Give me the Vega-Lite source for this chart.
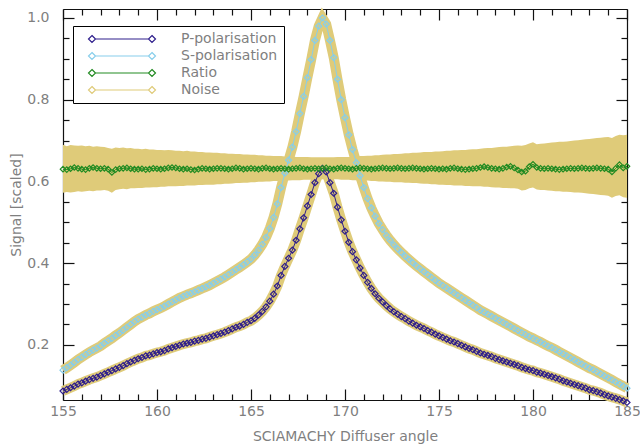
{
"$schema": "https://vega.github.io/schema/vega-lite/v6.json",
"width": 564, "height": 391,
"autosize": {"type": "none"},
"padding": {"left": 63, "top": 9, "right": 13, "bottom": 45},
"background": "white",
"config": {
  "view": {"stroke": null},
  "axis": {"grid": false, "domainColor": "#111111", "domainWidth": 1.2, "tickColor": "#111111", "tickWidth": 1.2, "zindex": 1,
    "labelFont": "DejaVu Sans", "labelFontSize": 14, "labelColor": "#7f7f7f",
    "titleFont": "DejaVu Sans", "titleFontSize": 14, "titleFontWeight": "normal", "titleColor": "#7f7f7f",
    "labelFlush": false, "labelOverlap": false}
},
"data": {"values": [
{"a":155.0,"s":0.138,"p":0.087,"r":0.630,"lo":0.572,"hi":0.690},
{"a":155.2,"s":0.144,"p":0.091,"r":0.629,"lo":0.574,"hi":0.686},
{"a":155.4,"s":0.150,"p":0.095,"r":0.631,"lo":0.573,"hi":0.689},
{"a":155.6,"s":0.157,"p":0.099,"r":0.634,"lo":0.574,"hi":0.688},
{"a":155.8,"s":0.164,"p":0.104,"r":0.632,"lo":0.576,"hi":0.687},
{"a":156.0,"s":0.170,"p":0.107,"r":0.630,"lo":0.575,"hi":0.688},
{"a":156.2,"s":0.176,"p":0.111,"r":0.629,"lo":0.576,"hi":0.686},
{"a":156.4,"s":0.182,"p":0.115,"r":0.632,"lo":0.577,"hi":0.687},
{"a":156.6,"s":0.187,"p":0.118,"r":0.634,"lo":0.576,"hi":0.685},
{"a":156.8,"s":0.192,"p":0.121,"r":0.632,"lo":0.578,"hi":0.686},
{"a":157.0,"s":0.197,"p":0.125,"r":0.631,"lo":0.578,"hi":0.685},
{"a":157.2,"s":0.204,"p":0.129,"r":0.632,"lo":0.579,"hi":0.684},
{"a":157.4,"s":0.210,"p":0.133,"r":0.630,"lo":0.577,"hi":0.682},
{"a":157.6,"s":0.216,"p":0.137,"r":0.622,"lo":0.572,"hi":0.680},
{"a":157.8,"s":0.223,"p":0.141,"r":0.629,"lo":0.579,"hi":0.683},
{"a":158.0,"s":0.229,"p":0.145,"r":0.631,"lo":0.581,"hi":0.682},
{"a":158.2,"s":0.236,"p":0.149,"r":0.632,"lo":0.582,"hi":0.683},
{"a":158.4,"s":0.243,"p":0.154,"r":0.633,"lo":0.581,"hi":0.681},
{"a":158.6,"s":0.250,"p":0.158,"r":0.631,"lo":0.583,"hi":0.682},
{"a":158.8,"s":0.257,"p":0.162,"r":0.630,"lo":0.583,"hi":0.680},
{"a":159.0,"s":0.263,"p":0.166,"r":0.630,"lo":0.584,"hi":0.680},
{"a":159.2,"s":0.268,"p":0.169,"r":0.631,"lo":0.584,"hi":0.679},
{"a":159.4,"s":0.273,"p":0.173,"r":0.629,"lo":0.585,"hi":0.680},
{"a":159.6,"s":0.277,"p":0.175,"r":0.630,"lo":0.585,"hi":0.678},
{"a":159.8,"s":0.282,"p":0.178,"r":0.632,"lo":0.586,"hi":0.678},
{"a":160.0,"s":0.286,"p":0.181,"r":0.631,"lo":0.586,"hi":0.677},
{"a":160.2,"s":0.290,"p":0.183,"r":0.630,"lo":0.587,"hi":0.677},
{"a":160.4,"s":0.295,"p":0.186,"r":0.631,"lo":0.587,"hi":0.676},
{"a":160.6,"s":0.300,"p":0.190,"r":0.633,"lo":0.588,"hi":0.677},
{"a":160.8,"s":0.305,"p":0.193,"r":0.634,"lo":0.588,"hi":0.676},
{"a":161.0,"s":0.310,"p":0.196,"r":0.633,"lo":0.588,"hi":0.675},
{"a":161.2,"s":0.315,"p":0.199,"r":0.631,"lo":0.589,"hi":0.675},
{"a":161.4,"s":0.319,"p":0.202,"r":0.630,"lo":0.589,"hi":0.674},
{"a":161.6,"s":0.323,"p":0.204,"r":0.631,"lo":0.590,"hi":0.675},
{"a":161.8,"s":0.326,"p":0.206,"r":0.629,"lo":0.590,"hi":0.673},
{"a":162.0,"s":0.330,"p":0.209,"r":0.628,"lo":0.590,"hi":0.673},
{"a":162.2,"s":0.334,"p":0.211,"r":0.630,"lo":0.591,"hi":0.672},
{"a":162.4,"s":0.338,"p":0.214,"r":0.632,"lo":0.591,"hi":0.672},
{"a":162.6,"s":0.342,"p":0.216,"r":0.631,"lo":0.592,"hi":0.671},
{"a":162.8,"s":0.346,"p":0.219,"r":0.630,"lo":0.592,"hi":0.671},
{"a":163.0,"s":0.351,"p":0.222,"r":0.631,"lo":0.592,"hi":0.670},
{"a":163.2,"s":0.356,"p":0.225,"r":0.632,"lo":0.593,"hi":0.670},
{"a":163.4,"s":0.361,"p":0.228,"r":0.632,"lo":0.593,"hi":0.669},
{"a":163.6,"s":0.366,"p":0.231,"r":0.631,"lo":0.594,"hi":0.669},
{"a":163.8,"s":0.372,"p":0.235,"r":0.630,"lo":0.594,"hi":0.668},
{"a":164.0,"s":0.378,"p":0.239,"r":0.631,"lo":0.595,"hi":0.668},
{"a":164.2,"s":0.384,"p":0.243,"r":0.633,"lo":0.596,"hi":0.667},
{"a":164.4,"s":0.390,"p":0.246,"r":0.632,"lo":0.596,"hi":0.667},
{"a":164.6,"s":0.396,"p":0.250,"r":0.630,"lo":0.597,"hi":0.666},
{"a":164.8,"s":0.403,"p":0.255,"r":0.631,"lo":0.597,"hi":0.666},
{"a":165.0,"s":0.410,"p":0.259,"r":0.632,"lo":0.598,"hi":0.665},
{"a":165.2,"s":0.420,"p":0.265,"r":0.631,"lo":0.598,"hi":0.665},
{"a":165.4,"s":0.432,"p":0.273,"r":0.630,"lo":0.599,"hi":0.664},
{"a":165.6,"s":0.446,"p":0.282,"r":0.632,"lo":0.599,"hi":0.664},
{"a":165.8,"s":0.463,"p":0.293,"r":0.633,"lo":0.600,"hi":0.663},
{"a":166.0,"s":0.485,"p":0.307,"r":0.631,"lo":0.600,"hi":0.663},
{"a":166.2,"s":0.512,"p":0.324,"r":0.630,"lo":0.601,"hi":0.662},
{"a":166.4,"s":0.545,"p":0.344,"r":0.631,"lo":0.601,"hi":0.662},
{"a":166.6,"s":0.585,"p":0.370,"r":0.632,"lo":0.602,"hi":0.662},
{"a":166.8,"s":0.620,"p":0.392,"r":0.631,"lo":0.602,"hi":0.661},
{"a":167.0,"s":0.652,"p":0.412,"r":0.630,"lo":0.602,"hi":0.661},
{"a":167.2,"s":0.684,"p":0.432,"r":0.631,"lo":0.603,"hi":0.661},
{"a":167.4,"s":0.722,"p":0.456,"r":0.632,"lo":0.603,"hi":0.660},
{"a":167.6,"s":0.766,"p":0.484,"r":0.633,"lo":0.603,"hi":0.660},
{"a":167.8,"s":0.808,"p":0.511,"r":0.631,"lo":0.604,"hi":0.660},
{"a":168.0,"s":0.854,"p":0.540,"r":0.630,"lo":0.604,"hi":0.660},
{"a":168.2,"s":0.898,"p":0.568,"r":0.631,"lo":0.604,"hi":0.659},
{"a":168.4,"s":0.945,"p":0.597,"r":0.632,"lo":0.605,"hi":0.659},
{"a":168.6,"s":0.980,"p":0.619,"r":0.631,"lo":0.605,"hi":0.659},
{"a":168.8,"s":1.000,"p":0.632,"r":0.632,"lo":0.605,"hi":0.659},
{"a":169.0,"s":0.985,"p":0.623,"r":0.633,"lo":0.605,"hi":0.659},
{"a":169.2,"s":0.945,"p":0.597,"r":0.631,"lo":0.605,"hi":0.659},
{"a":169.4,"s":0.903,"p":0.571,"r":0.630,"lo":0.605,"hi":0.659},
{"a":169.6,"s":0.850,"p":0.537,"r":0.632,"lo":0.605,"hi":0.660},
{"a":169.8,"s":0.800,"p":0.506,"r":0.633,"lo":0.604,"hi":0.660},
{"a":170.0,"s":0.756,"p":0.478,"r":0.632,"lo":0.604,"hi":0.660},
{"a":170.2,"s":0.714,"p":0.451,"r":0.631,"lo":0.604,"hi":0.660},
{"a":170.4,"s":0.678,"p":0.428,"r":0.630,"lo":0.603,"hi":0.661},
{"a":170.6,"s":0.646,"p":0.408,"r":0.632,"lo":0.603,"hi":0.661},
{"a":170.8,"s":0.614,"p":0.388,"r":0.633,"lo":0.602,"hi":0.662},
{"a":171.0,"s":0.585,"p":0.370,"r":0.632,"lo":0.602,"hi":0.662},
{"a":171.2,"s":0.558,"p":0.353,"r":0.631,"lo":0.602,"hi":0.663},
{"a":171.4,"s":0.535,"p":0.338,"r":0.630,"lo":0.601,"hi":0.663},
{"a":171.6,"s":0.515,"p":0.325,"r":0.631,"lo":0.601,"hi":0.664},
{"a":171.8,"s":0.497,"p":0.314,"r":0.632,"lo":0.600,"hi":0.664},
{"a":172.0,"s":0.482,"p":0.305,"r":0.633,"lo":0.600,"hi":0.665},
{"a":172.2,"s":0.468,"p":0.296,"r":0.632,"lo":0.599,"hi":0.666},
{"a":172.4,"s":0.456,"p":0.288,"r":0.631,"lo":0.599,"hi":0.666},
{"a":172.6,"s":0.445,"p":0.281,"r":0.632,"lo":0.598,"hi":0.667},
{"a":172.8,"s":0.435,"p":0.275,"r":0.633,"lo":0.598,"hi":0.667},
{"a":173.0,"s":0.426,"p":0.269,"r":0.632,"lo":0.598,"hi":0.668},
{"a":173.2,"s":0.417,"p":0.264,"r":0.631,"lo":0.597,"hi":0.669},
{"a":173.4,"s":0.409,"p":0.258,"r":0.632,"lo":0.597,"hi":0.669},
{"a":173.6,"s":0.401,"p":0.253,"r":0.633,"lo":0.596,"hi":0.670},
{"a":173.8,"s":0.393,"p":0.248,"r":0.632,"lo":0.596,"hi":0.670},
{"a":174.0,"s":0.386,"p":0.244,"r":0.631,"lo":0.595,"hi":0.671},
{"a":174.2,"s":0.379,"p":0.240,"r":0.630,"lo":0.594,"hi":0.672},
{"a":174.4,"s":0.372,"p":0.235,"r":0.631,"lo":0.594,"hi":0.672},
{"a":174.6,"s":0.365,"p":0.231,"r":0.632,"lo":0.593,"hi":0.672},
{"a":174.8,"s":0.358,"p":0.226,"r":0.631,"lo":0.593,"hi":0.673},
{"a":175.0,"s":0.351,"p":0.222,"r":0.630,"lo":0.592,"hi":0.673},
{"a":175.2,"s":0.345,"p":0.218,"r":0.631,"lo":0.592,"hi":0.674},
{"a":175.4,"s":0.339,"p":0.214,"r":0.630,"lo":0.591,"hi":0.675},
{"a":175.6,"s":0.333,"p":0.210,"r":0.632,"lo":0.591,"hi":0.675},
{"a":175.8,"s":0.327,"p":0.207,"r":0.633,"lo":0.590,"hi":0.676},
{"a":176.0,"s":0.321,"p":0.203,"r":0.631,"lo":0.590,"hi":0.676},
{"a":176.2,"s":0.315,"p":0.199,"r":0.630,"lo":0.590,"hi":0.677},
{"a":176.4,"s":0.309,"p":0.195,"r":0.629,"lo":0.589,"hi":0.677},
{"a":176.6,"s":0.303,"p":0.191,"r":0.630,"lo":0.589,"hi":0.678},
{"a":176.8,"s":0.297,"p":0.188,"r":0.631,"lo":0.588,"hi":0.679},
{"a":177.0,"s":0.291,"p":0.184,"r":0.632,"lo":0.588,"hi":0.679},
{"a":177.2,"s":0.285,"p":0.180,"r":0.634,"lo":0.588,"hi":0.680},
{"a":177.4,"s":0.280,"p":0.177,"r":0.636,"lo":0.587,"hi":0.681},
{"a":177.6,"s":0.275,"p":0.174,"r":0.634,"lo":0.587,"hi":0.682},
{"a":177.8,"s":0.270,"p":0.171,"r":0.632,"lo":0.586,"hi":0.682},
{"a":178.0,"s":0.265,"p":0.167,"r":0.631,"lo":0.585,"hi":0.683},
{"a":178.2,"s":0.260,"p":0.164,"r":0.630,"lo":0.585,"hi":0.684},
{"a":178.4,"s":0.255,"p":0.161,"r":0.632,"lo":0.584,"hi":0.685},
{"a":178.6,"s":0.250,"p":0.158,"r":0.635,"lo":0.584,"hi":0.685},
{"a":178.8,"s":0.245,"p":0.155,"r":0.637,"lo":0.583,"hi":0.686},
{"a":179.0,"s":0.240,"p":0.152,"r":0.633,"lo":0.583,"hi":0.687},
{"a":179.2,"s":0.235,"p":0.149,"r":0.628,"lo":0.582,"hi":0.688},
{"a":179.4,"s":0.230,"p":0.145,"r":0.623,"lo":0.578,"hi":0.687},
{"a":179.6,"s":0.225,"p":0.142,"r":0.625,"lo":0.579,"hi":0.689},
{"a":179.8,"s":0.220,"p":0.139,"r":0.636,"lo":0.583,"hi":0.693},
{"a":180.0,"s":0.216,"p":0.137,"r":0.642,"lo":0.585,"hi":0.696},
{"a":180.2,"s":0.211,"p":0.133,"r":0.634,"lo":0.580,"hi":0.691},
{"a":180.4,"s":0.207,"p":0.131,"r":0.632,"lo":0.579,"hi":0.692},
{"a":180.6,"s":0.202,"p":0.128,"r":0.631,"lo":0.579,"hi":0.693},
{"a":180.8,"s":0.197,"p":0.125,"r":0.632,"lo":0.578,"hi":0.694},
{"a":181.0,"s":0.193,"p":0.122,"r":0.631,"lo":0.577,"hi":0.695},
{"a":181.2,"s":0.188,"p":0.119,"r":0.630,"lo":0.576,"hi":0.696},
{"a":181.4,"s":0.183,"p":0.116,"r":0.629,"lo":0.576,"hi":0.697},
{"a":181.6,"s":0.178,"p":0.112,"r":0.630,"lo":0.575,"hi":0.697},
{"a":181.8,"s":0.173,"p":0.109,"r":0.631,"lo":0.575,"hi":0.698},
{"a":182.0,"s":0.168,"p":0.106,"r":0.632,"lo":0.574,"hi":0.699},
{"a":182.2,"s":0.163,"p":0.103,"r":0.631,"lo":0.573,"hi":0.700},
{"a":182.4,"s":0.158,"p":0.100,"r":0.632,"lo":0.573,"hi":0.701},
{"a":182.6,"s":0.153,"p":0.097,"r":0.633,"lo":0.572,"hi":0.702},
{"a":182.8,"s":0.148,"p":0.094,"r":0.632,"lo":0.571,"hi":0.703},
{"a":183.0,"s":0.143,"p":0.090,"r":0.631,"lo":0.570,"hi":0.704},
{"a":183.2,"s":0.139,"p":0.088,"r":0.632,"lo":0.569,"hi":0.705},
{"a":183.4,"s":0.134,"p":0.085,"r":0.633,"lo":0.568,"hi":0.706},
{"a":183.6,"s":0.129,"p":0.082,"r":0.632,"lo":0.567,"hi":0.707},
{"a":183.8,"s":0.124,"p":0.078,"r":0.631,"lo":0.566,"hi":0.708},
{"a":184.0,"s":0.119,"p":0.075,"r":0.630,"lo":0.565,"hi":0.709},
{"a":184.2,"s":0.114,"p":0.072,"r":0.623,"lo":0.560,"hi":0.706},
{"a":184.4,"s":0.109,"p":0.069,"r":0.632,"lo":0.564,"hi":0.711},
{"a":184.6,"s":0.104,"p":0.066,"r":0.641,"lo":0.566,"hi":0.714},
{"a":184.8,"s":0.099,"p":0.063,"r":0.633,"lo":0.561,"hi":0.713},
{"a":185.0,"s":0.094,"p":0.059,"r":0.637,"lo":0.560,"hi":0.714}
]},
"resolve": {"axis": {"x": "independent", "y": "independent"}},
"layer": [
  {"mark": {"type": "area"},
   "encoding": {
     "x": {"field": "a", "type": "quantitative", "scale": {"domain": [155, 185], "nice": false, "zero": false},
       "axis": {"orient": "bottom", "values": [155,156,157,158,159,160,161,162,163,164,165,166,167,168,169,170,171,172,173,174,175,176,177,178,179,180,181,182,183,184,185],
         "labelExpr": "datum.value % 5 === 0 ? datum.label : ''",
         "tickSize": {"condition": {"test": "datum.value % 5 === 0", "value": -11}, "value": -6},
         "labelPadding": 15, "title": "SCIAMACHY Diffuser angle", "titlePadding": 6}},
     "y": {"field": "lo", "type": "quantitative", "scale": {"domain": [0.065, 1.022], "nice": false, "zero": false},
       "axis": {"orient": "left", "values": [0.1,0.15,0.2,0.25,0.3,0.35,0.4,0.45,0.5,0.55,0.6,0.65,0.7,0.75,0.8,0.85,0.9,0.95,1.0],
         "labelExpr": "abs(datum.value*5 - round(datum.value*5)) < 0.001 ? format(datum.value, '.1f') : ''",
         "tickSize": {"condition": {"test": "abs(datum.value*5 - round(datum.value*5)) < 0.001", "value": -11}, "value": -6},
         "labelPadding": 25, "title": "Signal [scaled]", "titlePadding": 3}},
     "y2": {"field": "hi"},
     "color": {"datum": "Noise", "type": "nominal",
       "scale": {"domain": ["P-polarisation","S-polarisation","Ratio","Noise"], "range": ["#2e1e8c","#87ceeb","#228b22","#dfcb79"]},
       "legend": {"orient": "none", "legendX": 10, "legendY": 17, "title": null,
         "symbolType": "M-5.3,0L5.3,0M-6.0,-0.7L-5.3,0L-6.0,0.7L-6.7,0ZM6.0,-0.7L6.7,0L6.0,0.7L5.3,0Z",
         "symbolSize": 100, "symbolStrokeWidth": 1.2, "symbolOffset": 36, "labelOffset": 52,
         "symbolFillColor": "transparent",
         "labelFont": "DejaVu Sans", "labelFontSize": 14, "labelColor": "#7f7f7f", "rowPadding": 3, "padding": 6,
         "strokeColor": "#000000", "fillColor": "#ffffff",
         "encode": {"symbols": {"update": {"fill": {"value": "transparent"}, "fillOpacity": {"value": 0}, "stroke": {"scale": "color", "field": "value"}, "opacity": {"value": 1}}}}}}
   }},
  {"mark": {"type": "line", "color": "#dfcb79", "strokeWidth": 10},
   "encoding": {
     "x": {"field": "a", "type": "quantitative", "scale": {"domain": [155, 185], "nice": false, "zero": false},
       "axis": {"orient": "top", "values": [155,156,157,158,159,160,161,162,163,164,165,166,167,168,169,170,171,172,173,174,175,176,177,178,179,180,181,182,183,184,185],
         "tickSize": {"condition": {"test": "datum.value % 5 === 0", "value": -11}, "value": -6},
         "labels": false, "title": null}},
     "y": {"field": "s", "type": "quantitative", "scale": {"domain": [0.065, 1.022], "nice": false, "zero": false},
       "axis": {"orient": "right", "values": [0.1,0.15,0.2,0.25,0.3,0.35,0.4,0.45,0.5,0.55,0.6,0.65,0.7,0.75,0.8,0.85,0.9,0.95,1.0],
         "tickSize": {"condition": {"test": "abs(datum.value*5 - round(datum.value*5)) < 0.001", "value": -11}, "value": -6},
         "labels": false, "title": null}}
   }},
  {"mark": {"type": "line", "color": "#dfcb79", "strokeWidth": 10},
   "encoding": {
     "x": {"field": "a", "type": "quantitative", "scale": {"domain": [155, 185], "nice": false, "zero": false}, "axis": null},
     "y": {"field": "p", "type": "quantitative", "scale": {"domain": [0.065, 1.022], "nice": false, "zero": false}, "axis": null}
   }},
  {"mark": {"type": "line", "strokeWidth": 1, "point": {"shape": "diamond", "filled": false, "size": 36, "strokeWidth": 1.2}},
   "encoding": {
     "x": {"field": "a", "type": "quantitative", "scale": {"domain": [155, 185], "nice": false, "zero": false}, "axis": null},
     "y": {"field": "s", "type": "quantitative", "scale": {"domain": [0.065, 1.022], "nice": false, "zero": false}, "axis": null},
     "color": {"datum": "S-polarisation", "type": "nominal"}
   }},
  {"mark": {"type": "line", "strokeWidth": 1, "point": {"shape": "diamond", "filled": false, "size": 36, "strokeWidth": 1.2}},
   "encoding": {
     "x": {"field": "a", "type": "quantitative", "scale": {"domain": [155, 185], "nice": false, "zero": false}, "axis": null},
     "y": {"field": "p", "type": "quantitative", "scale": {"domain": [0.065, 1.022], "nice": false, "zero": false}, "axis": null},
     "color": {"datum": "P-polarisation", "type": "nominal"}
   }},
  {"mark": {"type": "line", "strokeWidth": 1, "point": {"shape": "diamond", "filled": false, "size": 30, "strokeWidth": 1.2}},
   "encoding": {
     "x": {"field": "a", "type": "quantitative", "scale": {"domain": [155, 185], "nice": false, "zero": false}, "axis": null},
     "y": {"field": "r", "type": "quantitative", "scale": {"domain": [0.065, 1.022], "nice": false, "zero": false}, "axis": null},
     "color": {"datum": "Ratio", "type": "nominal"}
   }}
]
}
